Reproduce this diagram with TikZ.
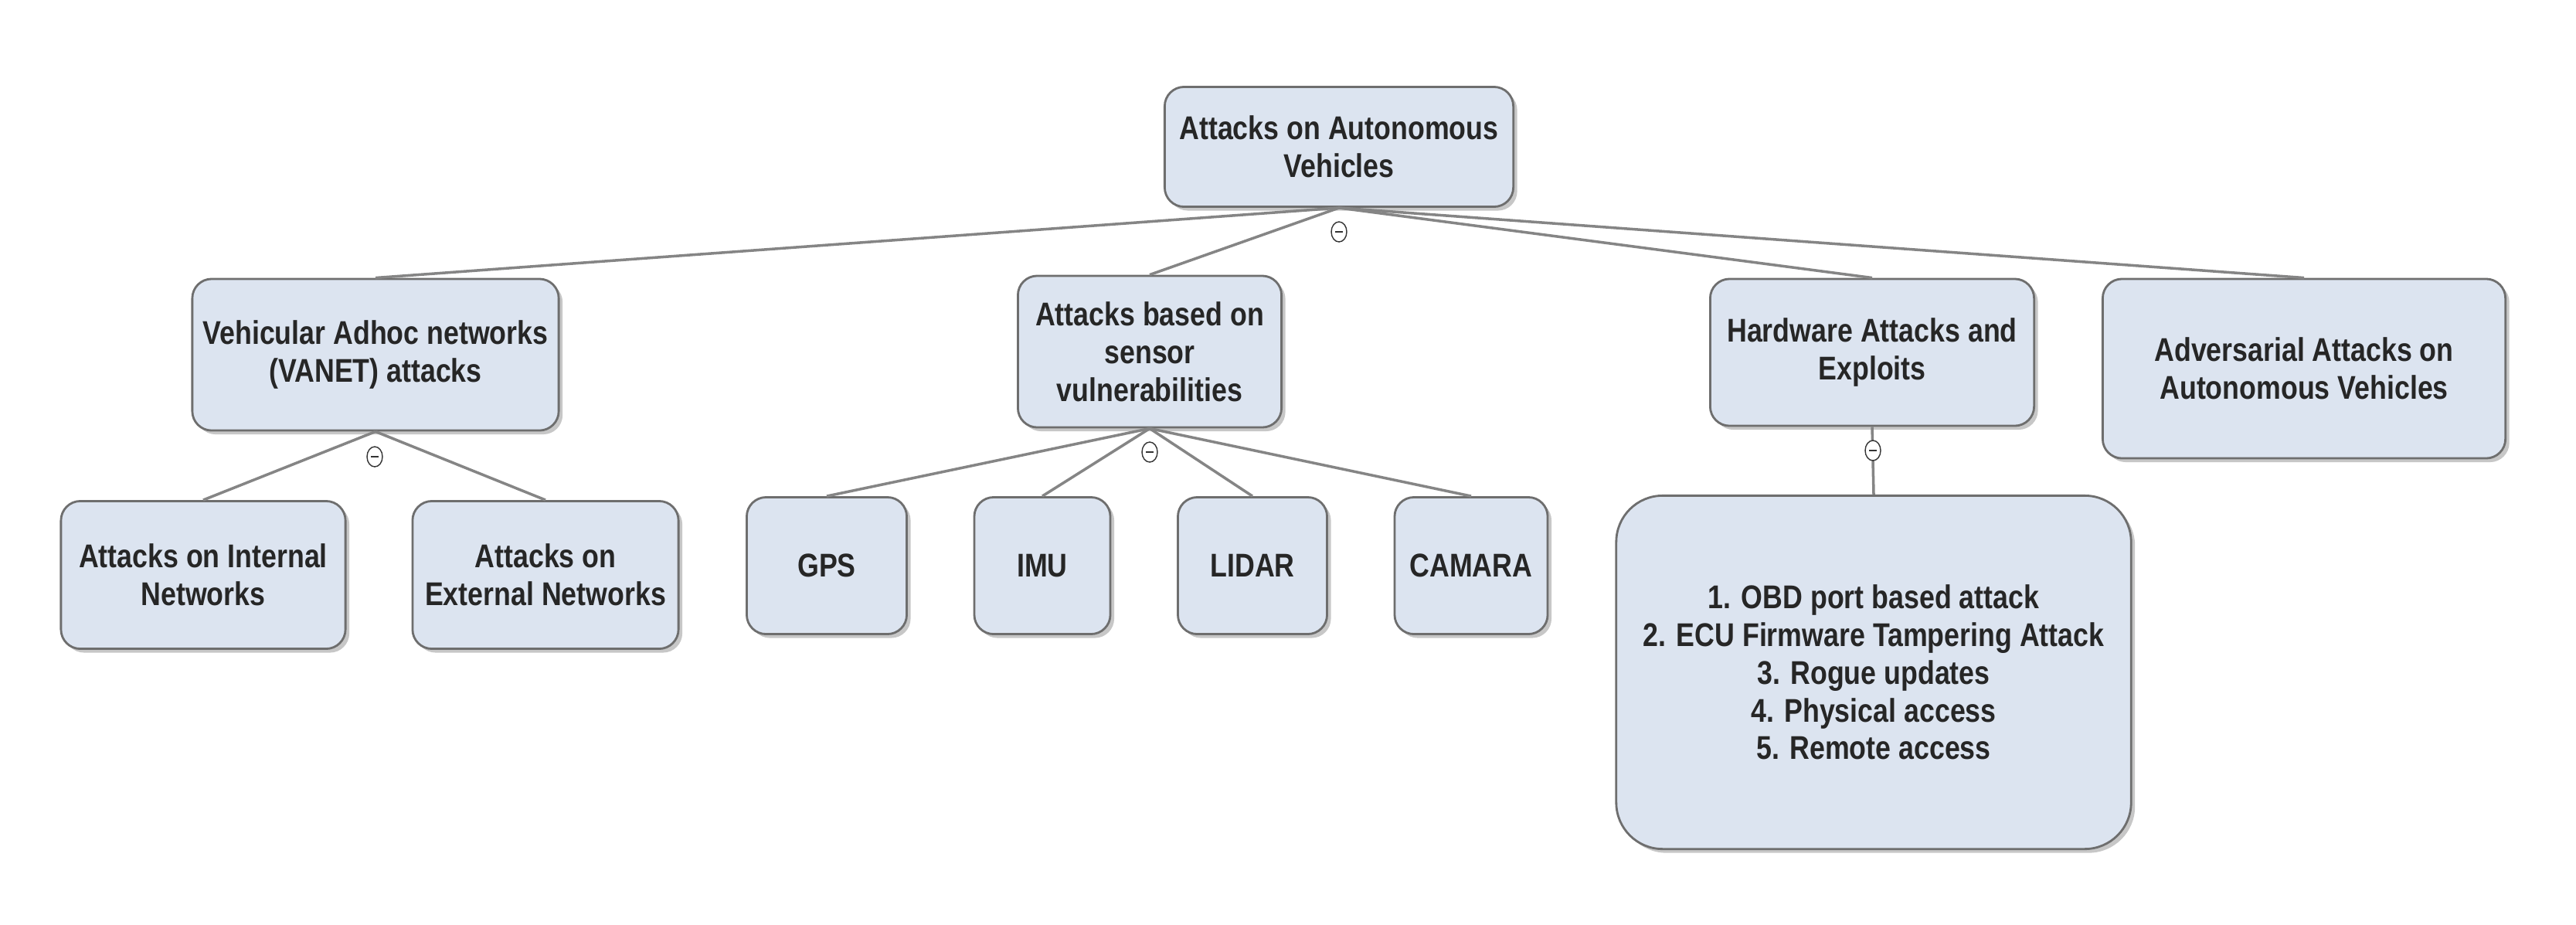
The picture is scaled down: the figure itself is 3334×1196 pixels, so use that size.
\documentclass[tikz,border=0pt]{standalone}
\usepackage{fontspec}
\newfontfamily\nodefont[FakeStretch=0.84]{Liberation Sans}
\usetikzlibrary{shadows,shapes.geometric}
\definecolor{boxfill}{HTML}{DCE4F0}
\definecolor{boxline}{HTML}{6E6E6E}
\definecolor{linkcol}{HTML}{858585}
\begin{document}
\begin{tikzpicture}[x=0.01cm,y=-0.01cm,
  box/.style={draw=boxline, line width=0.8pt, fill=boxfill, rounded corners=0.25cm,
    align=center, inner sep=0pt,
    font=\nodefont\bfseries\fontsize{12.1}{13.9}\selectfont, text=black!85,
    drop shadow={shadow xshift=0.05cm, shadow yshift=-0.05cm, fill=black, opacity=0.22}},
  link/.style={draw=linkcol, line width=1pt},
  toggle/.style={ellipse, draw=black!80, fill=white, line width=0.4pt,
    minimum width=0.2cm, minimum height=0.26cm, inner sep=0pt}]
\useasboundingbox (0,0) rectangle (3334,1196);

% nodes
\node[box, minimum width=4.51cm, minimum height=1.55cm] (root) at (1733,190) {Attacks on Autonomous\\Vehicles};
\node[box, minimum width=4.74cm, minimum height=1.96cm] (vanet) at (486,459) {Vehicular Adhoc networks\\(VANET) attacks};
\node[box, minimum width=3.41cm, minimum height=1.96cm] (sensor) at (1488,455) {Attacks based on\\sensor\\vulnerabilities};
\node[box, minimum width=4.19cm, minimum height=1.90cm] (hw) at (2423,456) {Hardware Attacks and\\Exploits};
\node[box, minimum width=5.21cm, minimum height=2.32cm] (adv) at (2982,477) {Adversarial Attacks on\\Autonomous Vehicles};

\node[box, minimum width=3.68cm, minimum height=1.91cm] (int) at (263,744) {Attacks on Internal\\Networks};
\node[box, minimum width=3.44cm, minimum height=1.91cm] (ext) at (706,744) {Attacks on\\External Networks};

\node[box, minimum width=2.07cm, minimum height=1.77cm] (gps) at (1070,732) {GPS};
\node[box, minimum width=1.76cm, minimum height=1.77cm] (imu) at (1349,732) {IMU};
\node[box, minimum width=1.93cm, minimum height=1.77cm] (lidar) at (1621,732) {LIDAR};
\node[box, minimum width=1.98cm, minimum height=1.77cm] (cam) at (1904,732) {CAMARA};

\node[box, rounded corners=0.6cm, minimum width=6.66cm, minimum height=4.57cm] (list) at (2425,870)
  {1. OBD port based attack\\2. ECU Firmware Tampering Attack\\3. Rogue updates\\4. Physical access\\5. Remote access};

% connectors
\draw[link] (root.south) -- (vanet.north);
\draw[link] (root.south) -- (sensor.north);
\draw[link] (root.south) -- (hw.north);
\draw[link] (root.south) -- (adv.north);
\draw[link] (vanet.south) -- (int.north);
\draw[link] (vanet.south) -- (ext.north);
\draw[link] (sensor.south) -- (gps.north);
\draw[link] (sensor.south) -- (imu.north);
\draw[link] (sensor.south) -- (lidar.north);
\draw[link] (sensor.south) -- (cam.north);
\draw[link] (hw.south) -- (list.north);

% collapse toggles
\foreach \n/\p in {t1/{(1733,300)}, t2/{(485,591)}, t3/{(1488,585)}, t4/{(2424,583)}}{
  \node[toggle] (\n) at \p {};
  \draw[black!80, line width=0.5pt] ([xshift=-0.05cm]\n.center) -- ([xshift=0.05cm]\n.center);
}
\end{tikzpicture}
\end{document}
